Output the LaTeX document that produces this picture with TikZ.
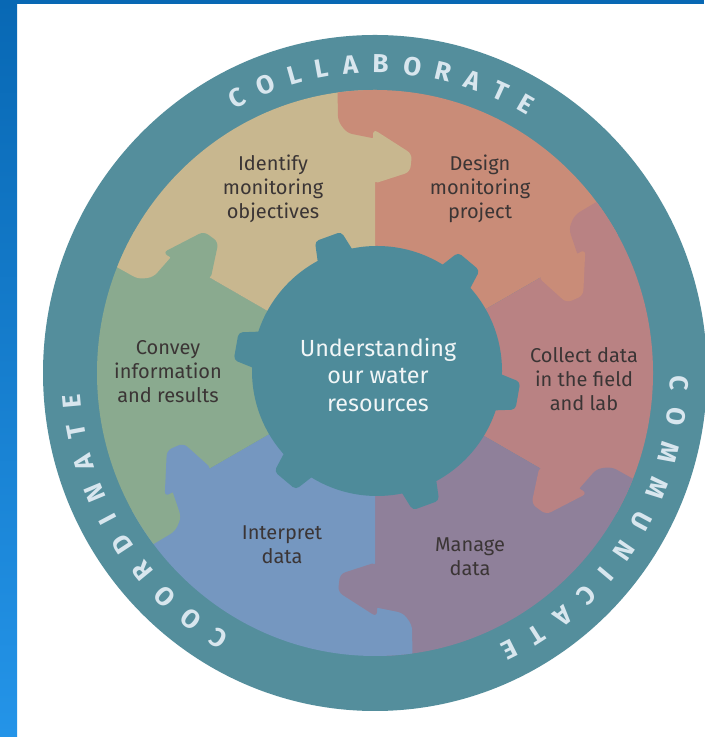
\documentclass[tikz,border=0pt]{standalone}
\usepackage{fontspec}
\setmainfont{Fira Sans}
\usepackage{tikz}
\usetikzlibrary{decorations.text,calc}

\definecolor{ring}{HTML}{548E9C}
\definecolor{hub}{HTML}{4E8B9A}
\definecolor{identify}{HTML}{C8B78F}
\definecolor{design}{HTML}{C98C78}
\definecolor{collect}{HTML}{B98283}
\definecolor{manage}{HTML}{8F809A}
\definecolor{interpret}{HTML}{7597C0}
\definecolor{convey}{HTML}{8AAA8F}
\definecolor{labeltext}{HTML}{3B3535}
\definecolor{ringtext}{HTML}{D8E6EE}
\definecolor{frameblue}{HTML}{0868B4}
\definecolor{framelight}{HTML}{2494E8}

\tikzset{
  steplabel/.style={text=labeltext, font=\fontsize{15}{18}\selectfont, align=center},
  hublabel/.style={text=white!92!hub, font=\fontsize{17.5}{20.5}\selectfont, align=center},
  ringword/.style={decorate, decoration={text along path, text align=fit to path,
      text={|\fontsize{19.5}{19.5}\selectfont\bfseries\color{ringtext}|#1}}}
}

\begin{document}
\begin{tikzpicture}[x=0.75pt, y=0.75pt]
\useasboundingbox (0,0) rectangle (704,737);
% frame
\fill[white] (0,0) rectangle (704,737);
\shade[top color=frameblue, bottom color=framelight] (0,0) rectangle (17,737);
\fill[frameblue] (0,733) rectangle (704,737);
% ring
\coordinate (C) at (375,364);
\coordinate (G) at (377,366);
\fill[ring] (C) ellipse [x radius=332, y radius=338];
\begin{scope}
\clip (C) ellipse [x radius=278, y radius=283];
\foreach \a/\col in {30/design, -30/collect, -90/manage, -150/interpret, 150/convey, 90/identify}
  \fill[\col] (C) -- ++(\a:400) arc[start angle=\a, end angle=\a+60, radius=400] -- cycle;
% teeth: \b boundary, \cw colour clockwise of it, \ccw colour counterclockwise
\foreach \b/\cw/\ccw in {90/design/identify, 30/collect/design, -30/manage/collect, -90/interpret/manage, -150/convey/interpret, 150/identify/convey} {
  \begin{scope}[shift={(C)}, rotate=\b-90]
    \fill[\cw, rounded corners=4] (2,234) -- (-28,240) -- (-37,252) -- (-38,320) -- (2,320) -- cycle;
    \fill[\ccw, rounded corners=4] (-2,189) -- (35,201) -- (37,219) -- (-2,244) -- cycle;
  \end{scope}
}
% hub gear
\fill[hub] (G) circle[radius=125];
\foreach \t in {50,110,...,350} {
  \begin{scope}[shift={(G)}, rotate=\t-90]
    \fill[hub, rounded corners=3] (-20,115) -- (-14,143) -- (14,143) -- (20,115) -- cycle;
  \end{scope}
}
\end{scope}
% labels
\node[steplabel] (identify) at (273,548) {Identify\\monitoring\\objectives};
\node[steplabel] (design) at (480,548) {Design\\monitoring\\project};
\node[steplabel] (collect) at (584,358) {Collect data\\in the field\\and lab};
\node[steplabel] (manage) at (470,180) {Manage\\data};
\node[steplabel] (interpret) at (282,192) {Interpret\\data};
\node[steplabel] (convey) at (168,365) {Convey\\information\\and results};
\node[hublabel] (hub) at (378,362) {Understanding\\our water\\resources};
% ring words
\path[ringword=COLLABORATE] ($(C)+(118.5:295 and 300)$) arc[start angle=118.5, end angle=59, x radius=295, y radius=300];
\path[ringword=COMMUNICATE] ($(C)+(-0.5:295 and 300)$) arc[start angle=-0.5, end angle=-65, x radius=295, y radius=300];
\path[ringword=COORDINATE] ($(C)+(240.5:295 and 300)$) arc[start angle=240.5, end angle=184, x radius=295, y radius=300];
\end{tikzpicture}
\end{document}
